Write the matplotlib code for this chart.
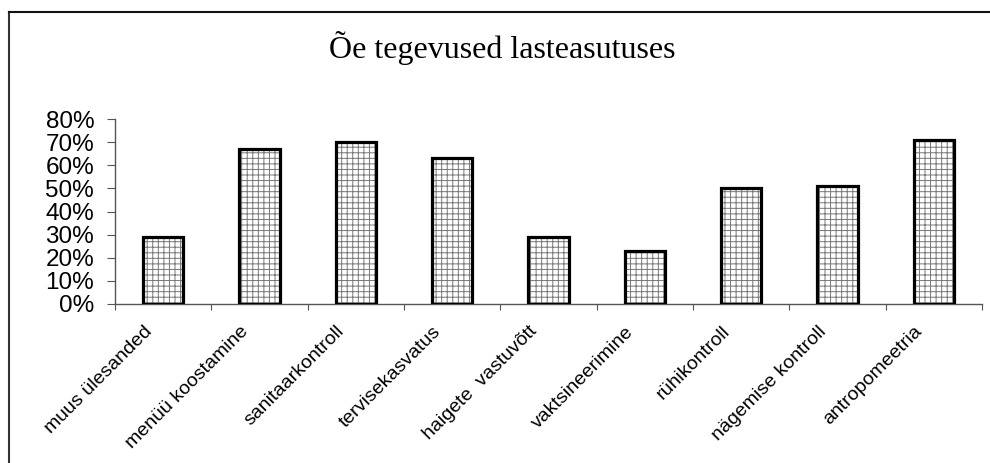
import matplotlib.pyplot as plt
import numpy as np
from matplotlib.lines import Line2D
from matplotlib.ticker import PercentFormatter
from matplotlib.transforms import ScaledTranslation

# tegevused ja osakaal lasteasutustes
tegevused = ['muus ülesanded', 'menüü koostamine', 'sanitaarkontroll',
             'tervisekasvatus', 'haigete  vastuvõtt', 'vaktsineerimine',
             'rühikontroll', 'nägemise kontroll', 'antropomeetria']
osakaal = [0.29, 0.67, 0.70, 0.63, 0.29, 0.23, 0.50, 0.51, 0.71]
y_tikid = [0.0, 0.1, 0.2, 0.3, 0.4, 0.5, 0.6, 0.7, 0.8]

plt.rcParams['hatch.linewidth'] = 0.7

fig = plt.figure(figsize=(9.9, 4.63), dpi=100)
ax = fig.add_axes([115/990, 1-304/463, (982-115)/990, 185/463])

x = np.arange(len(tegevused)) + 0.5

# muster ja raam eraldi, et muster oleks hall
ax.bar(x, osakaal, width=0.42, color='white', edgecolor='#777777',
       hatch='+++', linewidth=0, zorder=2)
ax.bar(x, osakaal, width=0.42, fill=False, edgecolor='black',
       linewidth=2.3, zorder=3)

ax.set_xlim(0, len(tegevused))
ax.set_ylim(0, 0.8)
ax.set_yticks(y_tikid)
ax.yaxis.set_major_formatter(PercentFormatter(1.0, decimals=0))
ax.set_xticks(np.arange(len(tegevused) + 1))
ax.set_xticklabels([])
ax.tick_params(axis='x', length=4, direction='out', color='#555555')
ax.tick_params(axis='y', length=6, color='#555555', labelsize=17.5, pad=9)
for lab in ax.get_yticklabels():
    lab.set_family('Liberation Sans')

# kaldus kategooriate nimed
nihe = ScaledTranslation(-0.14, -0.25, fig.dpi_scale_trans)
for xi, nimi in zip(x, tegevused):
    ax.text(xi, 0, nimi, rotation=45, ha='right', va='center',
            rotation_mode='anchor', fontsize=14, family='Liberation Sans',
            transform=ax.transData + nihe, clip_on=False)

for s in ['top', 'right']:
    ax.spines[s].set_visible(False)
for s in ['left', 'bottom']:
    ax.spines[s].set_color('#555555')
    ax.spines[s].set_linewidth(1)

fig.text(0.5075, 1-48/463, 'Õe tegevused lasteasutuses', ha='center',
         va='center', fontsize=23, family='Liberation Serif')

# diagrammi raam
fig.add_artist(Line2D([9/990, 9/990], [0, 1-12/463], color='#333333',
                      lw=1.5, transform=fig.transFigure))
fig.add_artist(Line2D([9/990, 1], [1-12/463, 1-12/463], color='#111111',
                      lw=1.5, transform=fig.transFigure))

fig.savefig('out.png', dpi=100)
